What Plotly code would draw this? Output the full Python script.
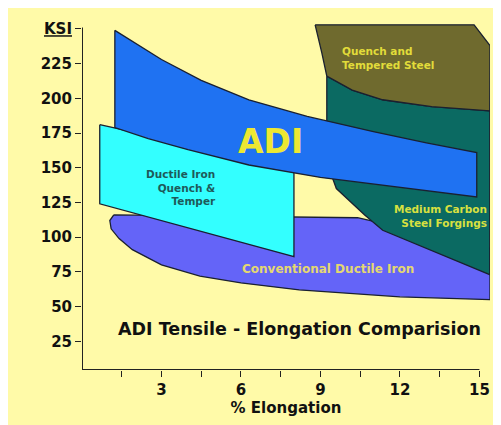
import plotly.graph_objects as go

# region outlines (x = % elongation, y = ksi)
conv_x = [1.2, 10.4, 15.4, 15.4, 12, 8.2, 6, 4.45, 3, 1.9, 1.4, 1.1, 1.05, 1.2]
conv_y = [116, 114, 92, 55, 57, 62, 67, 72, 80, 91, 99, 106, 112, 116]
teal_x = [9.24, 10.2, 11.35, 13.2, 15.39, 15.39, 11.35, 10.67, 9.6, 9.24, 9.24]
teal_y = [216, 206, 199, 194, 191, 73, 105, 116, 135, 154, 216]
olive_x = [8.8, 14.8, 15.4, 15.39, 13.2, 11.35, 10.2, 9.24, 9.05, 8.8]
olive_y = [253, 253, 238, 191, 194, 199, 206, 216, 233, 253]
cyan_x = [0.67, 8.0, 8.0, 0.67, 0.67]
cyan_y = [181, 150, 86, 124, 181]
adi_x = [1.24, 3, 4.5, 6.3, 8.5, 11, 13, 14.9, 14.9, 12, 9, 6.3, 4, 2.5, 1.24, 1.24]
adi_y = [249, 228, 213, 199, 187, 176, 168, 161, 129, 136, 143, 152, 163, 171, 179, 249]

ytick_vals = [25, 50, 75, 100, 125, 150, 175, 200, 225, 250]
ytick_text = ["25", "50", "75", "100", "125", "150", "175", "200", "225", "<u>KSI</u>"]
xtick_vals = [1.5, 3, 4.5, 6, 7.5, 9, 10.5, 12, 13.5, 15]
xtick_text = ["", "3", "", "6", "", "9", "", "12", "", "15"]

F = "DejaVu Sans, Verdana, sans-serif"
fig = go.Figure()
def poly(x, y, color):
    fig.add_trace(go.Scatter(x=x, y=y, mode="lines", fill="toself", fillcolor=color,
                             line=dict(color="#1a2030", width=1.3), hoverinfo="skip", showlegend=False))
poly(conv_x, conv_y, "#6464F8")
poly(teal_x, teal_y, "#0B6A62")
poly(olive_x, olive_y, "#6F6A2E")
poly(cyan_x, cyan_y, "#33FFFF")
poly(adi_x, adi_y, "#1F72F2")

def txt(x, y, s, size, color, align="center", xanchor="center"):
    fig.add_annotation(x=x, y=y, text=s, showarrow=False, align=align, xanchor=xanchor,
                       font=dict(family=F, size=size, color=color))
txt(7.1, 169, "<b>ADI</b>", 33, "#EDE832")
txt(5.13, 136, "<b>Ductile Iron<br>Quench &<br>Temper</b>", 10.5, "#1E5A5A", "right", "right")
txt(9.75, 229, "<b>Quench and<br>Tempered Steel</b>", 10.5, "#E2DC3A", "left", "left")
txt(15.35, 115, "<b>Medium Carbon<br>Steel Forgings</b>", 10.5, "#D8E040", "right", "right")
txt(9.3, 77, "<b>Conventional Ductile Iron</b>", 12, "#E4D870")
txt(8.2, 34, "<b>ADI Tensile - Elongation Comparision</b>", 17.5, "#111111")

fig.add_shape(type="line", x0=0, x1=15, y0=4.3, y1=4.3, line=dict(color="#222", width=2))
fig.add_shape(type="line", x0=0, x1=0, y0=4.3, y1=251, line=dict(color="#222", width=2))

fig.update_layout(
    width=501, height=425, margin=dict(l=74, r=19, t=12, b=63),
    paper_bgcolor="#FFFAA8", plot_bgcolor="#FFFAA8",
    font=dict(family=F, color="#111"),
    xaxis=dict(range=[0, 15.4], tickvals=xtick_vals, ticktext=["<b>%s</b>" % t if t else "" for t in xtick_text],
               ticks="outside", ticklen=6, tickcolor="#222", showgrid=False, zeroline=False, showline=False,
               tickfont=dict(size=15), title=dict(text="<b>% Elongation</b>", font=dict(size=15), standoff=4)),
    yaxis=dict(range=[4.3, 254.3], tickvals=ytick_vals, ticktext=["<b>%s</b>" % t for t in ytick_text],
               ticks="outside", ticklen=6, tickcolor="#222", showgrid=False, zeroline=False, showline=False,
               tickfont=dict(size=15)),
)
fig.write_html("out.html")
